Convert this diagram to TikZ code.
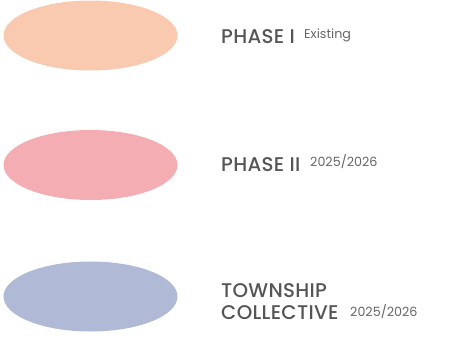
\documentclass[tikz,border=0pt]{standalone}
\usetikzlibrary{shapes.geometric}
\usepackage{fontspec}
\setmainfont{Poppins}[UprightFont={* Medium},LetterSpace=1.5]
\newfontfamily\subfont{Poppins}
\definecolor{peach}{HTML}{F9C9B0}
\definecolor{pinkc}{HTML}{F5ADB4}
\definecolor{lav}{HTML}{B0B9D6}
\definecolor{txt}{HTML}{555555}
\definecolor{txtl}{HTML}{666666}
\begin{document}
\begin{tikzpicture}[x=1pt,y=-1pt,
  blob/.style={ellipse,minimum width=174pt,minimum height=70pt,inner sep=0pt},
  lbl/.style={anchor=base west,inner sep=0pt,text=txt,font=\fontsize{19.8}{23}\selectfont},
  sub/.style={anchor=base west,inner sep=0pt,text=txtl,font=\subfont\fontsize{12.7}{14}\selectfont}]
\path[use as bounding box] (0,0) rectangle (458,338);
\node[blob,fill=peach] (e1) at (90.5,35.5) {};
\node[blob,fill=pinkc] (e2) at (90.5,165) {};
\node[blob,fill=lav] (e3) at (90.5,296.5) {};
\node[lbl] (t1) at (221,43) {PHASE I};
\node[sub] (s1) at (304,38) {Existing};
\node[lbl] (t2) at (221,171) {PHASE II};
\node[sub] (s2) at (310,166) {2025/2026};
\node[lbl] (t3) at (221,297) {TOWNSHIP};
\node[lbl] (t4) at (221,319) {COLLECTIVE};
\node[sub] (s3) at (350,316) {2025/2026};
\end{tikzpicture}
\end{document}
